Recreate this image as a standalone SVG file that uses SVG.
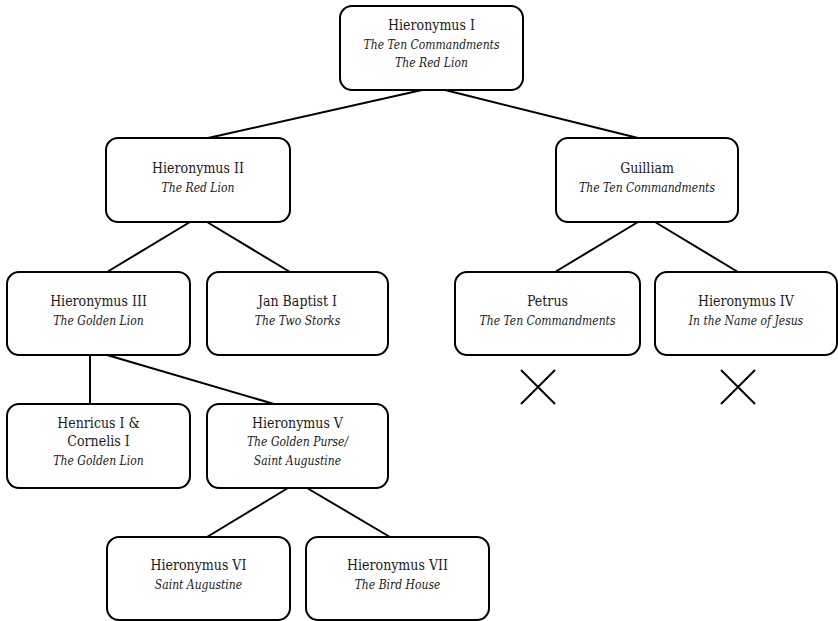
<svg xmlns="http://www.w3.org/2000/svg" width="838" height="621" viewBox="0 0 838 621">
<style>
.box{fill:#fff;stroke:#000;stroke-width:2}
.ln{stroke:#000;stroke-width:2;fill:none}
.t text{text-anchor:middle;fill:#1a1a1a;font-family:'DejaVu Serif Condensed','DejaVu Serif',serif;font-stretch:condensed}
.n{font-size:14px}
.i{font-size:12px;font-style:italic}
</style>
<rect width="838" height="621" fill="#fff"/>
<g id="connectors">
<line class="ln" x1="422" y1="90" x2="208" y2="138"/>
<line class="ln" x1="445" y1="90" x2="638" y2="138"/>
<line class="ln" x1="190" y1="222" x2="107" y2="272"/>
<line class="ln" x1="207" y1="222" x2="290" y2="272"/>
<line class="ln" x1="90" y1="355" x2="90" y2="404"/>
<line class="ln" x1="107" y1="355" x2="274" y2="404"/>
<line class="ln" x1="288" y1="488" x2="207" y2="537"/>
<line class="ln" x1="307" y1="488" x2="390" y2="537"/>
<line class="ln" x1="638" y1="222" x2="555" y2="272"/>
<line class="ln" x1="655" y1="222" x2="738" y2="272"/>
</g>
<g class="t">
<g id="h1"><rect class="box" x="340" y="6" width="183" height="84" rx="12"/>
<text class="n" x="431.5" y="30">Hieronymus I</text>
<text class="i" x="431.5" y="48.5">The Ten Commandments</text>
<text class="i" x="431.5" y="67">The Red Lion</text></g>
<g id="h2"><rect class="box" x="106" y="138" width="184" height="84" rx="12"/>
<text class="n" x="198" y="173">Hieronymus II</text>
<text class="i" x="198" y="192">The Red Lion</text></g>
<g id="guilliam"><rect class="box" x="556" y="138" width="182" height="84" rx="12"/>
<text class="n" x="647" y="173">Guilliam</text>
<text class="i" x="647" y="192">The Ten Commandments</text></g>
<g id="h3"><rect class="box" x="7" y="272" width="183" height="83" rx="12"/>
<text class="n" x="98.5" y="305.5">Hieronymus III</text>
<text class="i" x="98.5" y="324.5">The Golden Lion</text></g>
<g id="janbaptist"><rect class="box" x="207" y="272" width="181" height="83" rx="12"/>
<text class="n" x="297.5" y="305.5">Jan Baptist I</text>
<text class="i" x="297.5" y="324.5">The Two Storks</text></g>
<g id="petrus"><rect class="box" x="455" y="272" width="185" height="83" rx="12"/>
<text class="n" x="547.5" y="305.5">Petrus</text>
<text class="i" x="547.5" y="324.5">The Ten Commandments</text></g>
<g id="h4"><rect class="box" x="655" y="272" width="182" height="83" rx="12"/>
<text class="n" x="746" y="305.5">Hieronymus IV</text>
<text class="i" x="746" y="324.5">In the Name of Jesus</text></g>
<g id="henricus"><rect class="box" x="7" y="404" width="183" height="84" rx="12"/>
<text class="n" x="98.5" y="428">Henricus I &amp;</text>
<text class="n" x="98.5" y="446">Cornelis I</text>
<text class="i" x="98.5" y="464.5">The Golden Lion</text></g>
<g id="h5"><rect class="box" x="207" y="404" width="181" height="84" rx="12"/>
<text class="n" x="297.5" y="428">Hieronymus V</text>
<text class="i" x="297.5" y="446">The Golden Purse/</text>
<text class="i" x="297.5" y="464.5">Saint Augustine</text></g>
<g id="h6"><rect class="box" x="107" y="537" width="183" height="83" rx="12"/>
<text class="n" x="198.5" y="570">Hieronymus VI</text>
<text class="i" x="198.5" y="588.5">Saint Augustine</text></g>
<g id="h7"><rect class="box" x="306" y="537" width="183" height="83" rx="12"/>
<text class="n" x="397.5" y="570">Hieronymus VII</text>
<text class="i" x="397.5" y="588.5">The Bird House</text></g>
</g>
<g id="cross-petrus"><path class="ln" d="M521,370 L555,404 M555,370 L521,404"/></g>
<g id="cross-h4"><path class="ln" d="M721,370 L755,404 M755,370 L721,404"/></g>
</svg>
